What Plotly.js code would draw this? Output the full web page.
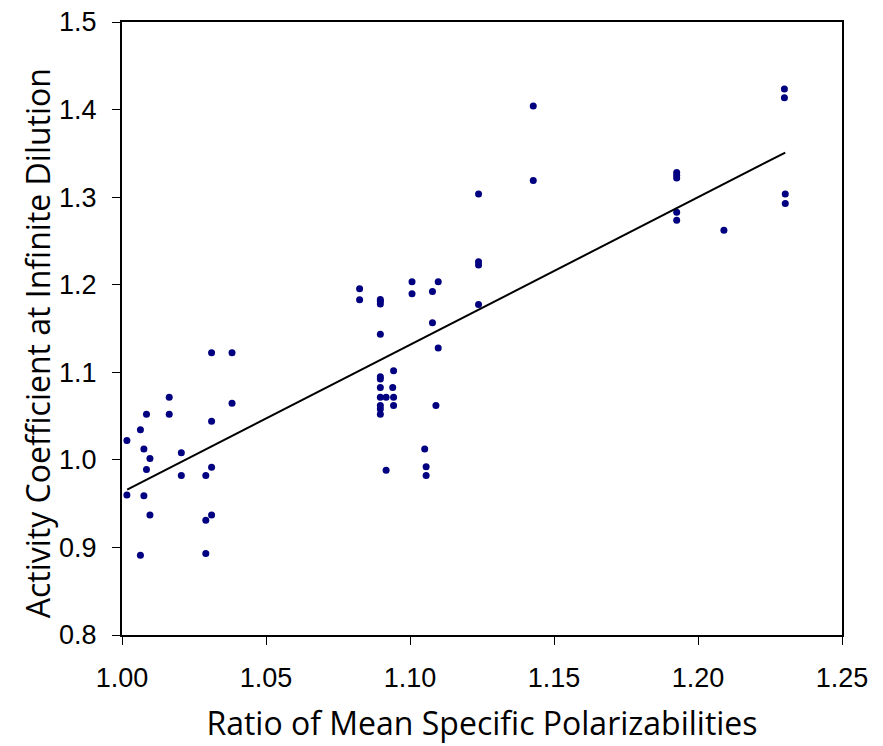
<!DOCTYPE html>
<html>
<head>
<meta charset="utf-8">
<script src="https://cdn.plot.ly/plotly-3.0.1.min.js"></script>
<style>html,body{margin:0;padding:0;background:#fff;}#chart{width:883px;height:746px;}</style>
</head>
<body>
<div id="chart"></div>
<script>
const ratioX = [
  1.0017, 1.0017, 1.0064, 1.0085, 1.0076, 1.0097, 1.0085, 1.0076, 1.0097, 1.0064,
  1.0164, 1.0164, 1.0206, 1.0206, 1.0311, 1.0382, 1.0382, 1.0311, 1.0311, 1.0291,
  1.0311, 1.0291, 1.0291,
  1.0825, 1.0825, 1.0897, 1.0897, 1.0897, 1.0897, 1.1007, 1.1007, 1.1078, 1.1098,
  1.1078, 1.1098, 1.0943, 1.0897, 1.0897, 1.0897, 1.0940, 1.0897, 1.0917, 1.0943,
  1.0897, 1.0897, 1.0897, 1.0943, 1.1090, 1.0917, 1.1051, 1.1056, 1.1056,
  1.1428, 1.1428, 1.1238, 1.1238, 1.1238, 1.1238,
  1.2300, 1.2300, 1.1926, 1.1926, 1.1926, 1.1926, 1.1926, 1.2090, 1.2303, 1.2303
];
const activityY = [
  1.022, 0.960, 1.0345, 1.052, 1.0125, 1.0015, 0.989, 0.959, 0.937, 0.891,
  1.0715, 1.052, 1.008, 0.982, 1.1224, 1.1224, 1.0646, 1.044, 0.9917, 0.982,
  0.937, 0.931, 0.893,
  1.1953, 1.1828, 1.1832, 1.181, 1.178, 1.1433, 1.2033, 1.1896, 1.1923, 1.2033,
  1.1566, 1.1277, 1.1018, 1.095, 1.0924, 1.0825, 1.0825, 1.0715, 1.0715, 1.0715,
  1.062, 1.058, 1.052, 1.062, 1.062, 0.988, 1.0125, 0.992, 0.982,
  1.404, 1.319, 1.3037, 1.2261, 1.2224, 1.1775,
  1.4234, 1.4136, 1.328, 1.325, 1.322, 1.2828, 1.2737, 1.2623, 1.3037, 1.2927
];
const fitX = [1.0018, 1.2303];
const fitY = [0.966, 1.3509];
const xTicks = [1.00, 1.05, 1.10, 1.15, 1.20, 1.25];
const xTickText = ["1.00", "1.05", "1.10", "1.15", "1.20", "1.25"];
const yTicks = [0.8, 0.9, 1.0, 1.1, 1.2, 1.3, 1.4, 1.5];
const yTickText = ["0.8", "0.9", "1.0", "1.1", "1.2", "1.3", "1.4", "1.5"];
const xTitle = "Ratio of Mean Specific Polarizabilities";
const yTitle = "Activity Coefficient at Infinite Dilution";

const tickFont = {family: "'Liberation Sans', Arial, sans-serif", size: 27, color: "#000"};
const titleFont = {family: "'Open Sans', 'Noto Sans', sans-serif", size: 32, color: "#000"};

Plotly.newPlot("chart", [
  {x: ratioX, y: activityY, type: "scatter", mode: "markers",
   marker: {color: "#000080", size: 7}, hoverinfo: "x+y"},
  {x: fitX, y: fitY, type: "scatter", mode: "lines",
   line: {color: "#000", width: 2}}
], {
  width: 883, height: 746,
  margin: {l: 121.5, r: 41, t: 21.5, b: 110.5},
  paper_bgcolor: "#fff", plot_bgcolor: "#fff",
  showlegend: false,
  xaxis: {
    range: [1.0, 1.25], tickvals: xTicks, ticktext: xTickText,
    ticks: "outside", ticklen: 8, tickwidth: 1, tickcolor: "#000",
    ticklabelstandoff: 10,
    showline: true, linecolor: "#000", linewidth: 2, mirror: true,
    showgrid: false, zeroline: false, tickfont: tickFont,
    title: {text: xTitle, font: titleFont, standoff: 20}
  },
  yaxis: {
    range: [0.8, 1.5], tickvals: yTicks, ticktext: yTickText,
    ticks: "outside", ticklen: 8, tickwidth: 1, tickcolor: "#000",
    ticklabelstandoff: 10,
    showline: true, linecolor: "#000", linewidth: 2, mirror: true,
    showgrid: false, zeroline: false, tickfont: tickFont
  },
  annotations: [{
    text: yTitle, font: titleFont, textangle: -90, showarrow: false,
    xref: "paper", yref: "paper", x: -0.118, y: 0.476,
    xanchor: "center", yanchor: "middle"
  }]
}, {displayModeBar: false, staticPlot: true});
</script>
</body>
</html>
